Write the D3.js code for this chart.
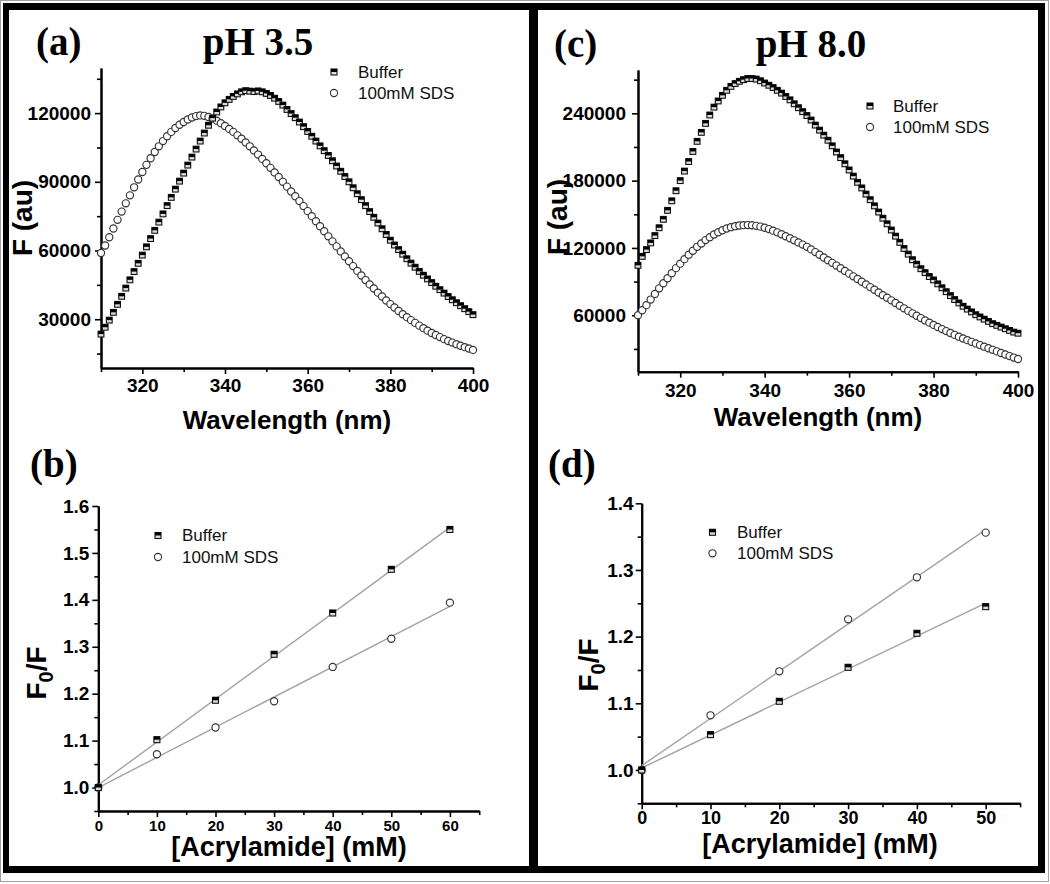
<!DOCTYPE html>
<html><head><meta charset="utf-8">
<script src="https://cdn.jsdelivr.net/npm/d3@7"></script>
<style>body{margin:0;background:#fff;} svg{display:block;}</style>
</head><body><svg id="c" width="1050" height="884"></svg>
<script>
// ---------------- DATA ----------------
const wavelengths = d3.range(310, 401); // 310..400 nm, 1 nm steps

const bufferPH35 = [23500,26500,29600,33000,36500,40000,43600,47200,50800,54400,
 58000,61600,65200,68800,72400,76000,79600,83200,86800,90300,
 93800,97300,100800,104300,107800,111300,114700,117800,120500,122700,
 124500,126000,127300,128400,129300,129800,129600,129400,129700,129300,
 128600,127700,126500,125100,123500,121600,119800,118000,116100,114100,
 112000,109900,107800,105700,103600,101500,99200,96900,94600,92300,
 90000,87400,84800,82200,79600,77000,74500,72000,69500,67000,
 64500,62400,60400,58400,56400,54500,52700,50900,49200,47600,
 46000,44400,42900,41400,39900,38500,37200,35900,34600,33300,32000];

const sdsPH35 = [58900,62200,65800,69600,73400,77000,80600,84100,87600,91000,
 94300,97400,100300,103000,105500,107800,109900,111800,113500,114900,
 116100,117200,118100,118700,119000,118800,118300,117600,116700,115600,
 114400,113100,111800,110300,108800,107200,105500,103700,101900,100000,
 98100,96100,94100,92100,90000,87900,85800,83700,81600,79400,
 77200,75000,72800,70600,68400,66200,64000,61800,59600,57400,
 55300,53200,51100,49100,47100,45200,43400,41600,39900,38200,
 36600,35100,33600,32200,30900,29600,28400,27200,26100,25000,
 24000,23100,22200,21300,20500,19800,19100,18400,17800,17200,16600];

const bufferPH80 = [104500,112500,118500,124500,131000,138000,145500,153500,162000,171000,
 180000,188500,197000,206000,215000,223000,231000,238500,245500,251000,
 256000,260500,264000,266500,268500,270000,271000,271000,270500,269000,
 267000,265000,263000,260500,258000,255000,252000,248500,245000,241500,
 238000,234000,229500,225000,220500,216000,211000,205500,200500,195000,
 189500,184000,178500,173500,168000,163000,157500,152000,146500,141500,
 136000,130500,125000,119500,114500,109500,105500,101500,98000,94500,
 91500,88000,84500,81000,77500,74000,71000,68000,65500,63000,
 60500,58500,56500,54500,52500,51000,49500,48000,46500,45000,44000];

const sdsPH80 = [60000,64500,69000,74000,79000,84000,88500,93000,97500,102000,
 106000,110000,114000,117500,121000,124000,127000,129500,132000,134000,
 135800,137300,138500,139400,140000,140300,140400,140200,139700,139000,
 138000,136800,135400,133900,132200,130400,128600,126800,124900,123000,
 121000,118700,116300,113900,111500,109100,106700,104300,101900,99500,
 97100,94700,92300,89900,87500,85100,82700,80300,77900,75600,
 73300,70900,68500,66200,63900,61700,59600,57500,55400,53400,
 51400,49500,47700,45900,44200,42500,40900,39300,37800,36300,
 34900,33400,32000,30600,29200,27800,26400,25000,23600,22300,21000];

const acrylB = [0,10,20,30,40,50,60];
const f0fBufferB = [1.000,1.102,1.186,1.284,1.372,1.465,1.550];
const f0fSdsB    = [1.000,1.071,1.128,1.184,1.257,1.317,1.394];

const acrylD = [0,10,20,30,40,50];
const f0fBufferD = [1.000,1.053,1.103,1.154,1.205,1.245];
const f0fSdsD    = [1.000,1.082,1.148,1.226,1.289,1.356];

// tick labels
const wlTicks = [320,340,360,380,400];
const wlMinor = [310,330,350,370,390];
const fTicksA = [30000,60000,90000,120000];
const fMinorA = [15000,45000,75000,105000,135000];
const fTicksC = [60000,120000,180000,240000];
const fMinorC = [30000,90000,150000,210000,270000];
const acTicksB = [0,10,20,30,40,50,60];
const acMinorB = [5,15,25,35,45,55,65];
const acTicksD = [0,10,20,30,40,50];
const acMinorD = [5,15,25,35,45,55];
const qTicksB = [1.0,1.1,1.2,1.3,1.4,1.5,1.6];
const qMinorB = [0.95,1.05,1.15,1.25,1.35,1.45,1.55];
const qTicksD = [1.0,1.1,1.2,1.3,1.4];
const qMinorD = [0.95,1.05,1.15,1.25,1.35];

const seriesNames = ["Buffer", "100mM SDS"];

// ---------------- DRAWING ----------------
const svg = d3.select('#c');
const SANS = '"Liberation Sans", Arial, Helvetica, sans-serif';
const SERIF = '"Liberation Serif", "Times New Roman", serif';

svg.append('rect').attr('width',1050).attr('height',884).attr('fill','#fff');
svg.append('rect').attr('x',0.5).attr('y',0.5).attr('width',1048).attr('height',881)
  .attr('fill','none').attr('stroke','#a0a0a0').attr('stroke-width',1);

// black frames
[[3,3,1042,7],[3,3,6,870],[3,866,1042,7],[1038,3,7,870],[529,3,9,870]].forEach(r=>{
  svg.append('rect').attr('x',r[0]).attr('y',r[1]).attr('width',r[2]).attr('height',r[3]).attr('fill','#000');
});

function squareMarker(g, cx, cy, s) {
  g.append('rect').attr('x',cx-s/2).attr('y',cy-s/2).attr('width',s).attr('height',s)
    .attr('fill','#dcdcdc').attr('stroke','#111').attr('stroke-width',1.1);
  g.append('rect').attr('x',cx-s/2).attr('y',cy-s/2).attr('width',s).attr('height',s/2)
    .attr('fill','#000');
}
function circleMarker(g, cx, cy, r) {
  g.append('circle').attr('cx',cx).attr('cy',cy).attr('r',r)
    .attr('fill','#fff').attr('stroke','#333').attr('stroke-width',1.15);
}

function linfit(xs, ys) {
  const mx = d3.mean(xs), my = d3.mean(ys);
  let num = 0, den = 0;
  xs.forEach((v,i)=>{ num += (v-mx)*(ys[i]-my); den += (v-mx)*(v-mx); });
  const b = num/den; return {a: my - b*mx, b};
}

function styleAxis(sel, fontSize) {
  sel.select('.domain').attr('stroke','#000').attr('stroke-width',2);
  sel.selectAll('.tick line').attr('stroke','#000').attr('stroke-width',1.6);
  sel.selectAll('.tick text').attr('fill','#000').style('font-family',SANS)
    .style('font-weight','bold').style('font-size',fontSize+'px');
}

function panel(c) {
  const g = svg.append('g');
  const x = d3.scaleLinear().domain(c.xDomain).range(c.xRange);
  const y = d3.scaleLinear().domain(c.yDomain).range(c.yRange);
  const y0 = c.yRange[0], x0 = c.xRange[0];

  // minor ticks
  g.append('g').attr('transform',`translate(0,${y0})`)
    .call(d3.axisBottom(x).tickValues(c.xMinor).tickSize(4).tickSizeOuter(0).tickFormat(''))
    .call(s=>styleAxis(s, c.xFont));
  g.append('g').attr('transform',`translate(${x0},0)`)
    .call(d3.axisLeft(y).tickValues(c.yMinor).tickSize(4).tickSizeOuter(0).tickFormat(''))
    .call(s=>styleAxis(s, c.yFont));
  // major
  g.append('g').attr('transform',`translate(0,${y0})`)
    .call(d3.axisBottom(x).tickValues(c.xTicks).tickSize(6).tickSizeOuter(0)
      .tickPadding(c.xPad).tickFormat(c.xFmt))
    .call(s=>styleAxis(s, c.xFont));
  g.append('g').attr('transform',`translate(${x0},0)`)
    .call(d3.axisLeft(y).tickValues(c.yTicks).tickSize(6).tickSizeOuter(0)
      .tickPadding(c.yPad).tickFormat(c.yFmt))
    .call(s=>styleAxis(s, c.yFont));

  // fits
  if (c.fit) {
    c.series.forEach(s=>{
      const f = linfit(c.xs, s.vals);
      const xa = d3.min(c.xs), xb = d3.max(c.xs);
      g.append('line').attr('x1',x(xa)).attr('y1',y(f.a+f.b*xa))
        .attr('x2',x(xb)).attr('y2',y(f.a+f.b*xb))
        .attr('stroke','#a3a3a3').attr('stroke-width',1.4);
    });
  }
  // markers: circles first then squares
  const mg = g.append('g');
  const sds = c.series[1], buf = c.series[0];
  sds.vals.forEach((v,i)=> circleMarker(mg, x(c.xs[i]), y(v), c.cr));
  buf.vals.forEach((v,i)=> squareMarker(mg, x(c.xs[i]), y(v), c.sq));

  // legend
  const L = c.legend;
  squareMarker(g, L.mx, L.y1, c.sqL);
  circleMarker(g, L.mx, L.y2, c.crL);
  g.append('text').attr('x',L.tx).attr('y',L.y1+5.5).text(seriesNames[0])
    .style('font-family',SANS).style('font-size','17px').attr('fill','#111');
  g.append('text').attr('x',L.tx).attr('y',L.y2+5.5).text(seriesNames[1])
    .style('font-family',SANS).style('font-size','17px').attr('fill','#111');

  // x title
  g.append('text').attr('x',c.xt[0]).attr('y',c.xt[1]).attr('text-anchor','middle')
    .text(c.xTitle).style('font-family',SANS).style('font-weight','bold')
    .style('font-size',c.xtFont+'px').attr('fill','#000');
  // y title
  const yt = g.append('text').attr('transform',`translate(${c.yt[0]},${c.yt[1]}) rotate(-90)`)
    .attr('text-anchor','middle').style('font-family',SANS).style('font-weight','bold')
    .style('font-size','28px').attr('fill','#000');
  if (c.yTitleSub) {
    yt.append('tspan').text('F');
    yt.append('tspan').text('0').attr('dy',7).style('font-size','20px');
    yt.append('tspan').text('/F').attr('dy',-7);
  } else {
    yt.text(c.yTitle);
  }
  // panel letter & title
  g.append('text').attr('x',c.lab[0]).attr('y',c.lab[1]).text(c.label)
    .style('font-family',SERIF).style('font-weight','bold').style('font-size','39px').attr('fill','#000');
  if (c.title) {
    g.append('text').attr('x',c.tt[0]).attr('y',c.tt[1]).attr('text-anchor','middle').text(c.title)
      .style('font-family',SERIF).style('font-weight','bold').style('font-size','39px').attr('fill','#000');
  }
}

const intFmt = d3.format('d');
const oneFmt = d3.format('.1f');

panel({
  xDomain:[310,400], xRange:[101,473], yDomain:[8700,139700], yRange:[368,68],
  xTicks:wlTicks, xMinor:wlMinor, yTicks:fTicksA, yMinor:fMinorA,
  xFmt:intFmt, yFmt:intFmt, xFont:19, yFont:19, xPad:5, yPad:4,
  xs:wavelengths, series:[{vals:bufferPH35},{vals:sdsPH35}], cr:3.6, sq:5.8, crL:3.6, sqL:6,
  legend:{mx:334, tx:358, y1:72, y2:93},
  xTitle:'Wavelength (nm)', xt:[287,429], xtFont:26, yTitle:'F (au)', yt:[32,218],
  label:'(a)', lab:[36,55], title:'pH 3.5', tt:[258,55]
});
panel({
  xDomain:[310,400], xRange:[638,1018], yDomain:[9700,278600], yRange:[371.7,70],
  xTicks:wlTicks, xMinor:wlMinor, yTicks:fTicksC, yMinor:fMinorC,
  xFmt:intFmt, yFmt:intFmt, xFont:19, yFont:19, xPad:6, yPad:6,
  xs:wavelengths, series:[{vals:bufferPH80},{vals:sdsPH80}], cr:3.6, sq:5.8, crL:3.6, sqL:6,
  legend:{mx:870, tx:893, y1:106, y2:127},
  xTitle:'Wavelength (nm)', xt:[818,426], xtFont:26, yTitle:'F (au)', yt:[567,217],
  label:'(c)', lab:[554,57], title:'pH 8.0', tt:[811,57]
});
panel({
  xDomain:[0,65], xRange:[98.3,479.2], yDomain:[0.95,1.6], yRange:[811,506],
  xTicks:acTicksB, xMinor:acMinorB, yTicks:qTicksB, yMinor:qMinorB,
  xFmt:intFmt, yFmt:oneFmt, xFont:15, yFont:19, xPad:3, yPad:3,
  xs:acrylB, series:[{vals:f0fBufferB},{vals:f0fSdsB}], fit:true, cr:3.6, sq:6, crL:3.6, sqL:6,
  legend:{mx:158, tx:182, y1:535.5, y2:557},
  xTitle:'[Acrylamide] (mM)', xt:[289,856], xtFont:27, yTitleSub:true, yt:[46,673],
  label:'(b)', lab:[30,477]
});
panel({
  xDomain:[0,55], xRange:[641.7,1020.1], yDomain:[0.95,1.4], yRange:[803.3,503.3],
  xTicks:acTicksD, xMinor:acMinorD, yTicks:qTicksD, yMinor:qMinorD,
  xFmt:intFmt, yFmt:oneFmt, xFont:18, yFont:19, xPad:2, yPad:2,
  xs:acrylD, series:[{vals:f0fBufferD},{vals:f0fSdsD}], fit:true, cr:3.6, sq:6, crL:3.6, sqL:6,
  legend:{mx:712.5, tx:737, y1:532.3, y2:553.3},
  xTitle:'[Acrylamide] (mM)', xt:[820,853], xtFont:27, yTitleSub:true, yt:[598,665],
  label:'(d)', lab:[548,477]
});
</script>
</body></html>
